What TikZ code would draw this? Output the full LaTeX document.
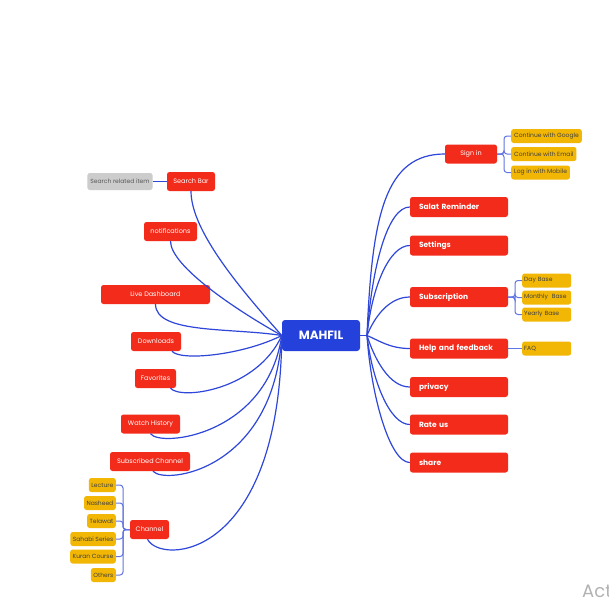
\documentclass[tikz,border=0pt]{standalone}
\usepackage{fontspec}
\setmainfont{Poppins}
\definecolor{mapred}{HTML}{F22B1B}
\definecolor{mapblue}{HTML}{2541DB}
\definecolor{mapline}{HTML}{2E46D9}
\definecolor{mapyellow}{HTML}{F2B705}
\definecolor{mapgray}{HTML}{CCCCCC}
\begin{document}
\begin{tikzpicture}[x=1pt,y=-1pt,
    redbox/.style={fill=mapred, rounded corners=2.5pt, text=white, inner sep=0pt,
      minimum height=19pt, font=\fontsize{6.5}{7}\selectfont},
    menubox/.style={redbox, minimum height=20pt, inner xsep=9pt, text width=80pt,
      align=left, font=\fontsize{7.5}{8}\selectfont\bfseries},
    tagbox/.style={fill=mapyellow, rounded corners=2.5pt, text=black!75, inner sep=0pt,
      inner xsep=2.5pt, minimum height=14pt, font=\fontsize{6}{6.5}\selectfont},
    graybox/.style={tagbox, fill=mapgray, text=black!65, minimum height=17pt, inner xsep=3pt},
    link/.style={draw=mapline, line width=1.2pt},
    sublink/.style={draw=mapline!75, line width=1pt, rounded corners=3pt}]
  \fill[white] (0,0) rectangle (609,608);
  \useasboundingbox (0,0) rectangle (609,608);
  \node[fill=mapblue, rounded corners=3pt, text=white, minimum width=78pt, minimum height=31pt,
    inner sep=0pt, font=\fontsize{12}{14}\selectfont\bfseries] (mahfil) at (321,335.5) {MAHFIL};
  \foreach \n/\x/\y/\w/\t in {sbar/191/181.5/48/Search Bar, notif/170.5/231.5/53/notifications,
            live/155.5/294.5/109/Live Dashboard, down/156/341.5/50/Downloads,
            fav/155.5/378.5/41/Favorites, watch/150.5/424/59/Watch History,
            subch/150/461.5/80/Subscribed Channel, chan/149.5/529.5/39/Channel}
    \node[redbox, minimum width=\w pt] (\n) at (\x,\y) {\t};
  \foreach \n/\s/\a/\b/\c/\d in {sbar/0/0/40/-40/-45, notif/0/0/25/-45/-25, live/0/0/30/-50/-8,
            down/16/8/10/-40/20, fav/15/10/12/-25/55, watch/0/10/14/-15/100,
            subch/3/12/14/-8/135, chan/-2/13/26/-2/225}
    \draw[link] ([xshift=\s pt]\n.south) .. controls +(\a,\b) and +(\c,\d) .. (mahfil.west);
  \node[graybox] (srel) at (120,181.5) {Search related item};
  \draw[link] (sbar.west) -- (srel.east);
  \coordinate (busC) at (123,529.5);
  \foreach \n/\y/\t in {lect/485/Lecture, nash/503/Nasheed, tela/521/Telawat,
            sahabi/539/Sahabi Series, kuran/556.5/Kuran Course, others/575/Others}
    {\node[tagbox, anchor=east] (\n) at (116,\y) {\t};
     \draw[sublink] (chan.west) -- (busC) |- (\n.east);}
  \node[redbox, minimum width=52pt] (signin) at (471,154) {Sign in};
  \foreach \n/\y/\t in {salat/207/Salat Reminder, sett/245.5/Settings, subs/297/Subscription,
            help/348.5/Help and feedback, priv/387/privacy, rate/424.5/Rate us, share/462.5/share}
    \node[menubox] (\n) at (459,\y) {\t};
  \coordinate (hubR) at (367,335.5);
  \draw[link] (mahfil.east) -- (hubR);
  \foreach \n/\a/\b/\c in {signin/5/-120/-60, salat/5/-70/-22, sett/5/-50/-20, subs/8/-20/-20,
            help/12/5/-20, priv/8/25/-20, rate/5/45/-20, share/4/60/-20}
    \draw[link] (hubR) .. controls +(\a,\b) and +(\c,0) .. (\n.west);
  \coordinate (busS) at (504,154);
  \foreach \n/\y/\t in {google/136/Continue with Google, email/154/Continue with Email,
            mobile/172.5/Log in with Mobile}
    {\node[tagbox, anchor=west, inner xsep=3pt] (\n) at (511,\y) {\t};
     \draw[sublink] (signin.east) -- (busS) |- (\n.west);}
  \coordinate (busP) at (515,297);
  \foreach \n/\y/\t in {day/280.5/Day Base, month/297.5/Monthly\ \ Base, year/314.5/Yearly Base}
    {\node[tagbox, anchor=west, inner xsep=2pt, text width=45pt, align=left] (\n) at (522,\y) {\t};
     \draw[sublink] (subs.east) -- (busP) |- (\n.west);}
  \node[tagbox, anchor=west, inner xsep=2pt, text width=45pt, align=left] (faq) at (522,348.5) {FAQ};
  \draw[sublink] (help.east) -- (faq.west);
  \node[anchor=base west, inner sep=0pt, text=black!30, font=\fontsize{18}{20}\selectfont] (act) at (582,597) {Act};
\end{tikzpicture}
\end{document}
